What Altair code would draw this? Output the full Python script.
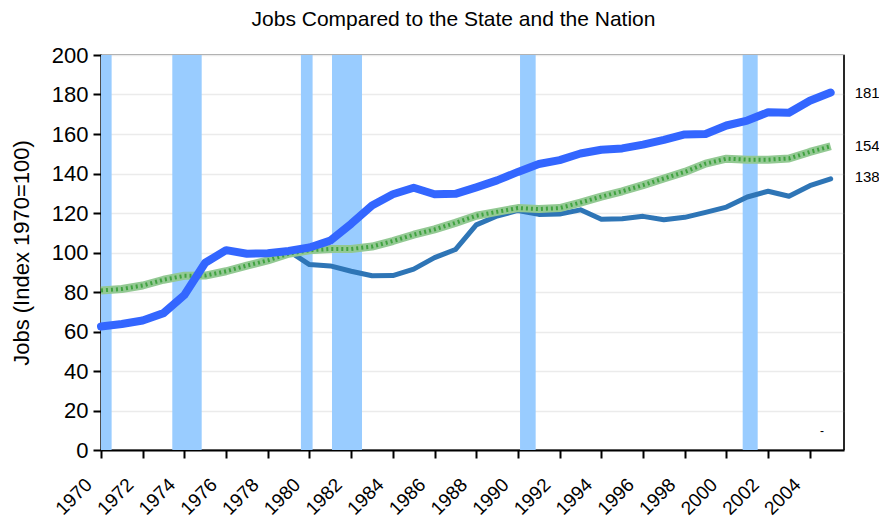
import altair as alt
import pandas as pd

years = list(range(1970, 2006))
local_jobs = [62.5, 63.8, 65.6, 69.3, 78.5, 94.8, 101.2, 99.4, 99.6, 100.8,
              102.5, 106.0, 114.5, 123.8, 129.5, 132.8, 129.5, 129.7, 133.0, 136.5,
              140.8, 144.8, 146.8, 150.1, 152.0, 152.7, 154.6, 157.0, 159.8, 160.0,
              164.3, 166.8, 171.0, 170.8, 176.8, 181.0]
state_jobs = [80.8, 81.5, 83.3, 86.2, 88.2, 88.3, 90.5, 93.4, 96.0, 99.4,
              101.1, 101.8, 101.8, 103.0, 105.8, 109.0, 111.7, 115.0, 118.6, 120.6,
              122.5, 122.0, 122.5, 125.3, 128.3, 131.0, 134.1, 137.5, 140.8, 145.0,
              147.5, 147.0, 147.0, 147.6, 150.9, 153.8]
years_second = list(range(1979, 2006))
second_jobs = [100.8, 93.9, 93.2, 90.5, 88.2, 88.3, 91.6, 97.4, 101.5, 114.0,
               118.5, 121.3, 119.3, 119.5, 121.6, 116.8, 117.1, 118.3, 116.6, 117.8,
               120.3, 123.0, 128.1, 131.0, 128.5, 133.8, 137.3]

rec_start = [1970.0, 1973.42, 1979.59, 1981.08, 1990.10, 2000.78]
rec_end = [1970.51, 1974.83, 1980.15, 1982.52, 1990.85, 2001.50]

end_labels = ["181", "154", "138"]
end_values = [181, 154, 138]
tick_years = list(range(1970, 2005, 2))

W, H = 743, 395
FONT = "Liberation Sans"

xs = alt.Scale(domain=[1970, 2005.64], nice=False, zero=False)
ys = alt.Scale(domain=[0, 200], nice=False)
xax = alt.Axis(title=None, values=tick_years, format="d", labelAngle=-45,
               labelFontSize=19, labelFont=FONT, labelColor="black",
               labelOverlap=False, labelOffset=-19, labelPadding=17,
               domainColor="black", domainWidth=2, tickColor="black",
               tickWidth=2, tickSize=8, grid=False)
yax = alt.Axis(title="Jobs (Index 1970=100)", values=list(range(0, 201, 20)),
               labelFontSize=22, labelFont=FONT, labelColor="black", labelPadding=5,
               titleFontSize=22, titleFont=FONT, titleFontWeight="normal",
               titleColor="black", titlePadding=18,
               domainColor="black", domainWidth=2, tickColor="black",
               tickWidth=2, tickSize=8, grid=True, gridColor="#EBEBEB",
               gridWidth=1.5)

bands_df = pd.DataFrame({"start": rec_start, "end": rec_end,
                         "lo": [0] * len(rec_start), "hi": [200] * len(rec_start)})
bands = alt.Chart(bands_df).mark_rect(color="#99CCFF").encode(
    x=alt.X("start:Q", scale=xs, axis=xax), x2="end",
    y=alt.Y("lo:Q", scale=ys, axis=yax), y2="hi")

main_df = pd.DataFrame({"year": years, "value": local_jobs})
state_df = pd.DataFrame({"year": years, "value": state_jobs})
second_df = pd.DataFrame({"year": years_second, "value": second_jobs})


def line(df, **kw):
    return alt.Chart(df).mark_line(strokeJoin="round", **kw).encode(
        x=alt.X("year:Q", scale=xs, axis=xax),
        y=alt.Y("value:Q", scale=ys, axis=yax))


second = line(second_df, color="#2E75B6", strokeWidth=5, strokeCap="round")
state_base = line(state_df, color="#93C993", strokeWidth=8)
state_pat = line(state_df, color="#0A8A0A", strokeWidth=4, strokeDash=[2, 3], opacity=0.6)
main = line(main_df, color="#3366FF", strokeWidth=8, strokeCap="round")

lab_df = pd.DataFrame({"year": [2005] * 3, "value": end_values, "label": end_labels})
labels = alt.Chart(lab_df).mark_text(align="left", baseline="middle", dx=24,
                                     fontSize=15, font=FONT, color="black").encode(
    x=alt.X("year:Q", scale=xs, axis=xax),
    y=alt.Y("value:Q", scale=ys, axis=yax), text="label:N")

dash_df = pd.DataFrame({"year": [2004.58], "value": [9.4], "label": ["-"]})
dash = alt.Chart(dash_df).mark_text(fontSize=12, font=FONT, color="black").encode(
    x=alt.X("year:Q", scale=xs, axis=xax),
    y=alt.Y("value:Q", scale=ys, axis=yax), text="label:N")

right_edge = alt.Chart(pd.DataFrame({"year": [2005.64], "lo": [0], "hi": [200]})).mark_rule(
    color="black", strokeWidth=1.5).encode(
    x=alt.X("year:Q", scale=xs, axis=xax),
    y=alt.Y("lo:Q", scale=ys, axis=yax), y2="hi")

chart = alt.layer(bands, second, state_base, state_pat, main, labels, dash, right_edge).properties(
    width=W, height=H,
    title=alt.TitleParams("Jobs Compared to the State and the Nation", fontSize=21,
                          fontWeight="normal", font=FONT, color="black", offset=14, dx=-19),
    autosize=alt.AutoSizeParams(type="none"),
    padding={"left": 93, "top": 47, "right": 35, "bottom": 68},
).configure_view(stroke="#808080", strokeWidth=1.5)

chart.save("out.html", embed_options={"renderer": "svg", "actions": False})
